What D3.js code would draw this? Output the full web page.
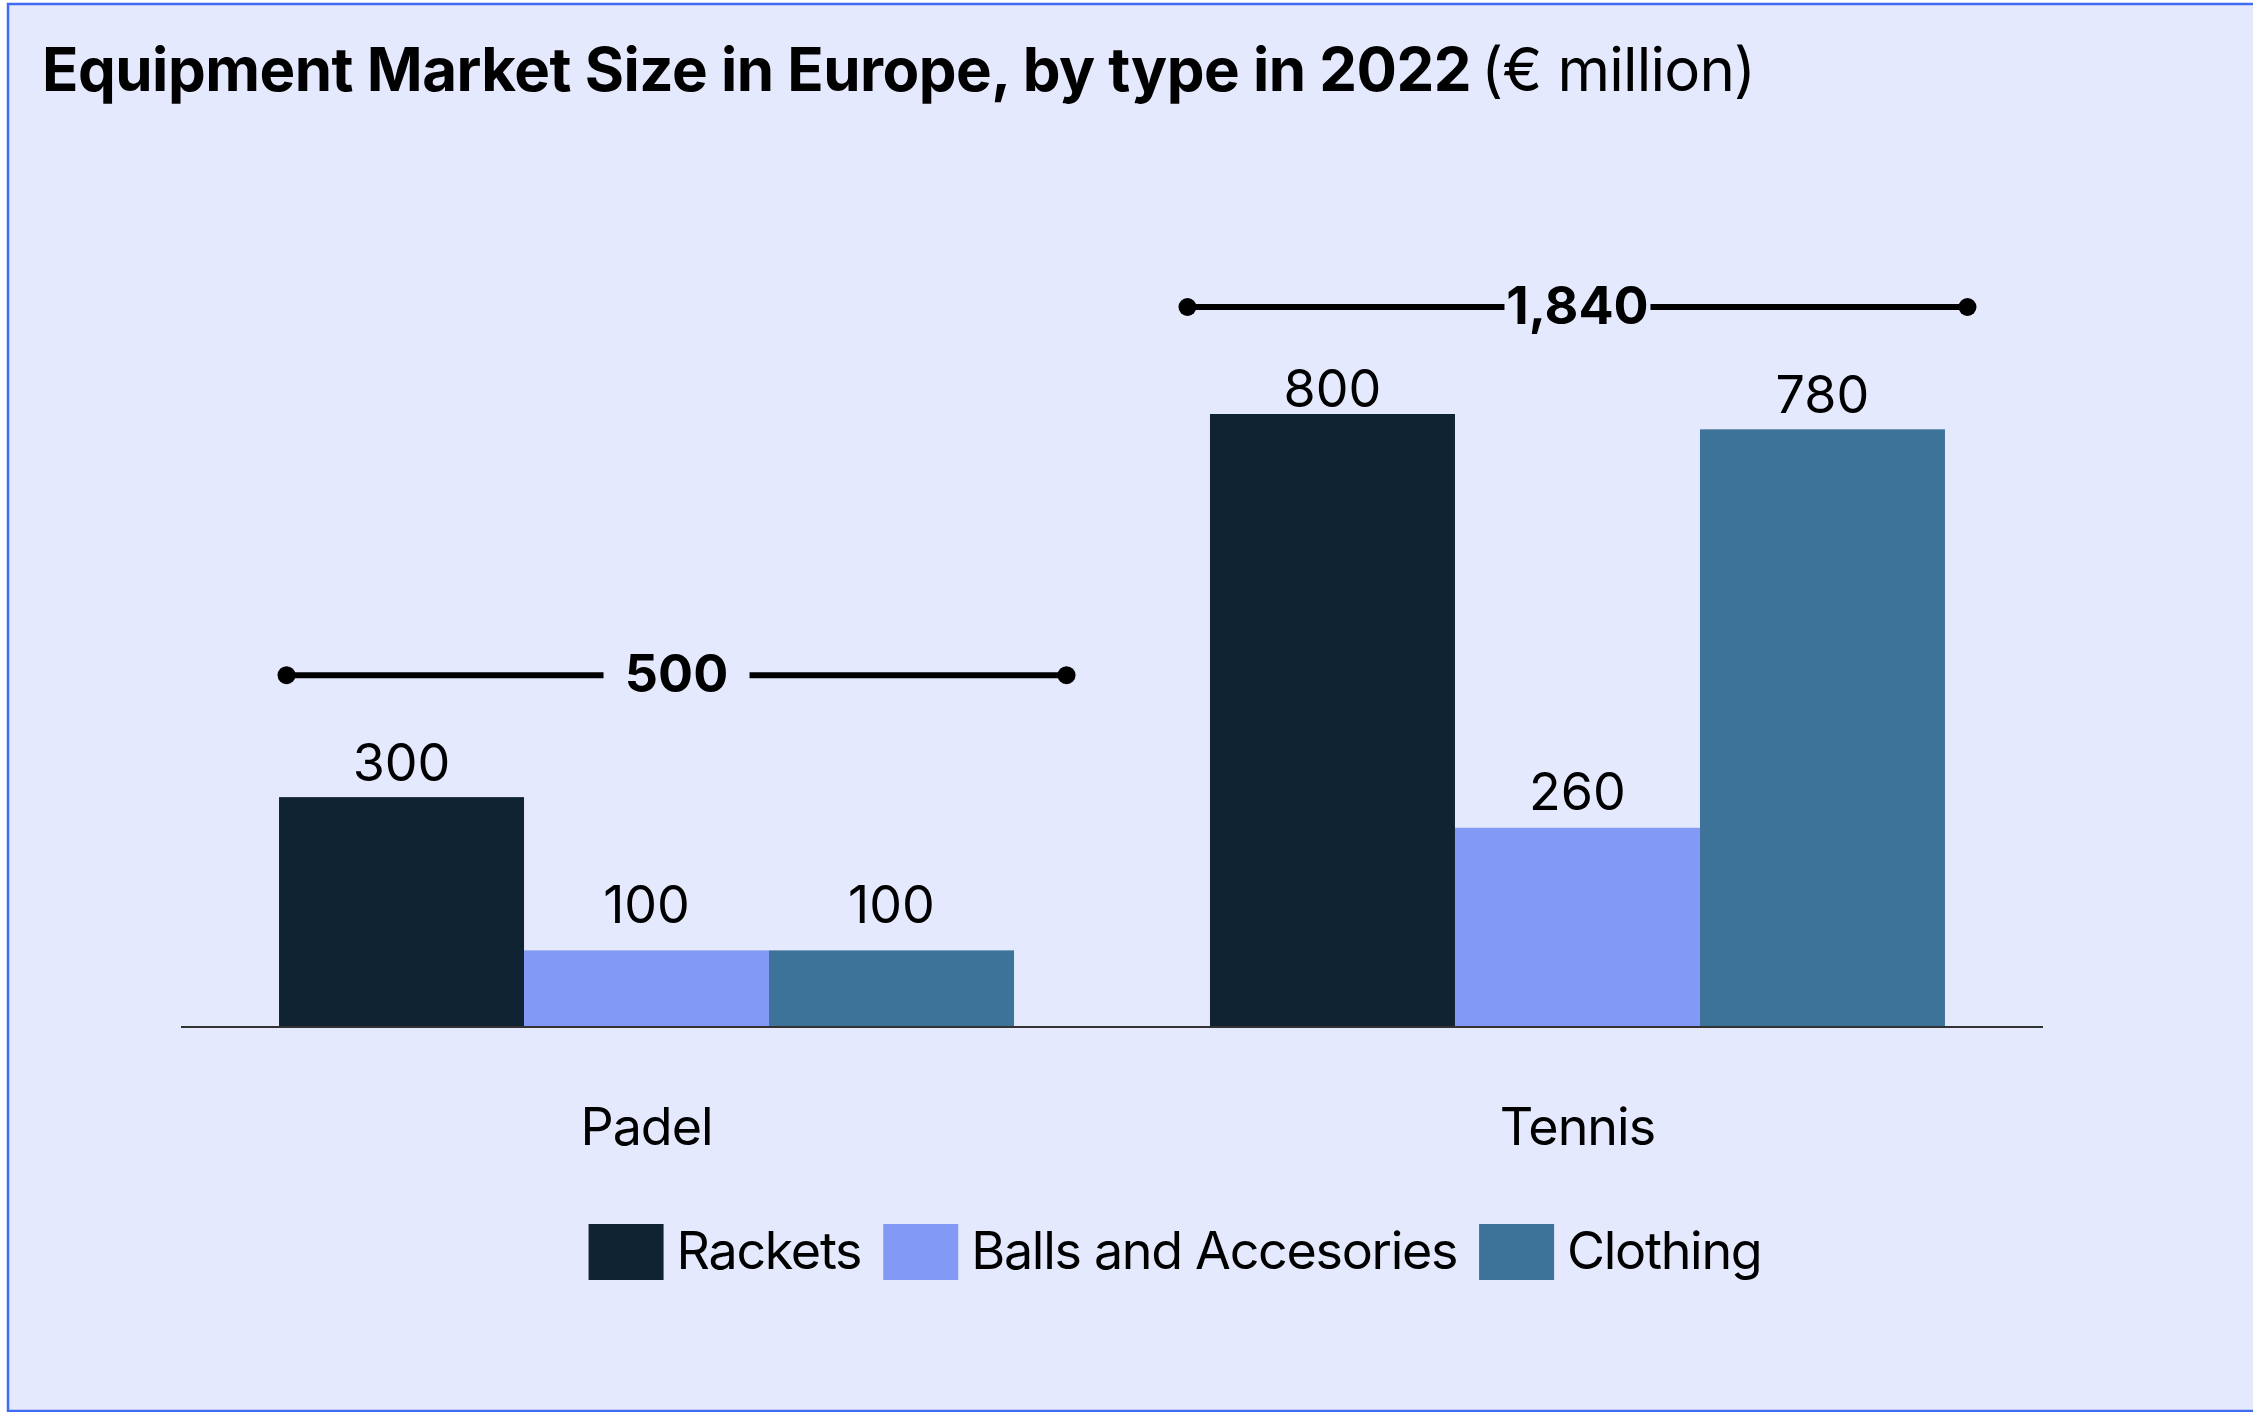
<!DOCTYPE html>
<meta charset="utf-8">
<script src="https://d3js.org/d3.v7.min.js"></script>
<style>
    body { margin: 0; background: #fff; }
    svg text { font-family: 'Inter', 'Liberation Sans', sans-serif; fill: #000; }
</style>
<div id="chart"></div>
<script>
    // data
    var groups = ["Padel", "Tennis"];
    var seriesNames = ["Rackets", "Balls and Accesories", "Clothing"];
    var rackets = [300, 800];
    var balls = [100, 260];
    var clothing = [100, 780];
    var totals = ["500", "1,840"];
    var colors = ["#0f2333", "#8299f5", "#3d7399"];

    var W = 2253, H = 1412;
    var baseY = 1027;

    var svg = d3.select("#chart").append("svg")
        .attr("width", W).attr("height", H);

    // background panel with blue frame
    svg.append("rect")
        .attr("x", 8).attr("y", 4)
        .attr("width", W + 10).attr("height", H - 5)
        .attr("fill", "#e4e9fd")
        .attr("stroke", "#3f6cf0")
        .attr("stroke-width", 2.5);

    // title
    var title = svg.append("text").attr("x", 42).attr("y", 91).style("font-size", "60px");
    title.append("tspan").style("font-weight", 700).attr("letter-spacing", "-0.5")
        .text("Equipment Market Size in Europe, by type in 2022");
    title.append("tspan").attr("dx", -6).style("font-weight", 400).attr("letter-spacing", "-0.8").text(" (€ million)");

    var values = seriesNames.map(function(s, i) {
        return [rackets, balls, clothing][i];
    });

    var x0 = d3.scaleBand().domain(groups).range([181, 2043])
        .paddingInner(0.2105).paddingOuter(0.1053);
    var x1 = d3.scaleBand().domain(seriesNames).range([0, x0.bandwidth()]);
    var y = d3.scaleLinear().domain([0, d3.max(rackets.concat(balls, clothing))])
        .range([baseY, 414]);

    // label lift above each bar (hand placed in the original)
    var labelGap = [[16, 27, 27], [7, 18, 16]];

    // bars + value labels
    var g = svg.selectAll("g.grp").data(groups).enter().append("g")
        .attr("class", "grp")
        .attr("transform", function(d) { return "translate(" + x0(d) + ",0)"; });

    var cells = function(d, gi) {
        return seriesNames.map(function(s, si) {
            return {s: s, si: si, gi: gi, v: values[si][gi]};
        });
    };

    g.selectAll("rect").data(cells)
        .enter().append("rect")
        .attr("x", function(d) { return x1(d.s); })
        .attr("width", x1.bandwidth())
        .attr("y", function(d) { return y(d.v); })
        .attr("height", function(d) { return baseY - y(d.v); })
        .attr("fill", function(d) { return colors[d.si]; });

    g.selectAll("text.val").data(cells)
        .enter().append("text")
        .attr("class", "val")
        .attr("x", function(d) { return x1(d.s) + x1.bandwidth() / 2; })
        .attr("y", function(d) { return y(d.v) - labelGap[d.gi][d.si]; })
        .attr("text-anchor", "middle")
        .style("font-size", "52px")
        .text(function(d) { return d.v; });

    // baseline
    svg.append("line")
        .attr("x1", 181).attr("x2", 2043)
        .attr("y1", baseY).attr("y2", baseY)
        .attr("stroke", "#333").attr("stroke-width", 2);

    // category labels
    svg.selectAll("text.cat").data(groups).enter().append("text")
        .attr("class", "cat")
        .attr("x", function(d) { return x0(d) + x0.bandwidth() / 2; })
        .attr("y", 1145)
        .attr("text-anchor", "middle")
        .attr("letter-spacing", "-1")
        .style("font-size", "52px")
        .text(function(d) { return d; });

    // total brackets above each group
    var bracketShift = [30, 0], bracketLift = [122, 107];
    var seg = 317, gap = 146;
    groups.forEach(function(grp, gi) {
        var cx = x0(grp) + x0.bandwidth() / 2 + bracketShift[gi];
        var top = d3.min(values, function(v) { return y(v[gi]); });
        var ly = top - bracketLift[gi];
        var b = svg.append("g");
        [[cx - gap / 2 - seg, cx - gap / 2], [cx + gap / 2, cx + gap / 2 + seg]].forEach(function(p) {
            b.append("line").attr("x1", p[0]).attr("x2", p[1])
                .attr("y1", ly).attr("y2", ly)
                .attr("stroke", "#000").attr("stroke-width", 6);
        });
        b.append("circle").attr("cx", cx - gap / 2 - seg).attr("cy", ly).attr("r", 9);
        b.append("circle").attr("cx", cx + gap / 2 + seg).attr("cy", ly).attr("r", 9);
        b.append("text").attr("x", cx).attr("y", ly + 17)
            .attr("text-anchor", "middle")
            .style("font-size", "52px").style("font-weight", 700)
            .text(totals[gi]);
    });

    // legend, centred on the measured widths
    var leg = svg.append("g");
    var items = leg.selectAll("g").data(seriesNames).enter().append("g");
    items.append("rect").attr("width", 75).attr("height", 56)
        .attr("fill", function(d, i) { return colors[i]; });
    items.append("text").attr("x", 88).attr("y", 45)
        .attr("letter-spacing", "-1.3")
        .style("font-size", "52px")
        .text(function(d) { return d; });
    var xpos = 0;
    items.each(function() {
        var w = d3.select(this).select("text").node().getComputedTextLength();
        d3.select(this).attr("transform", "translate(" + xpos + ",0)");
        xpos += 88 + w + 22;
    });
    xpos -= 22;
    leg.attr("transform", "translate(" + (1175 - xpos / 2) + ",1224)");
</script>
